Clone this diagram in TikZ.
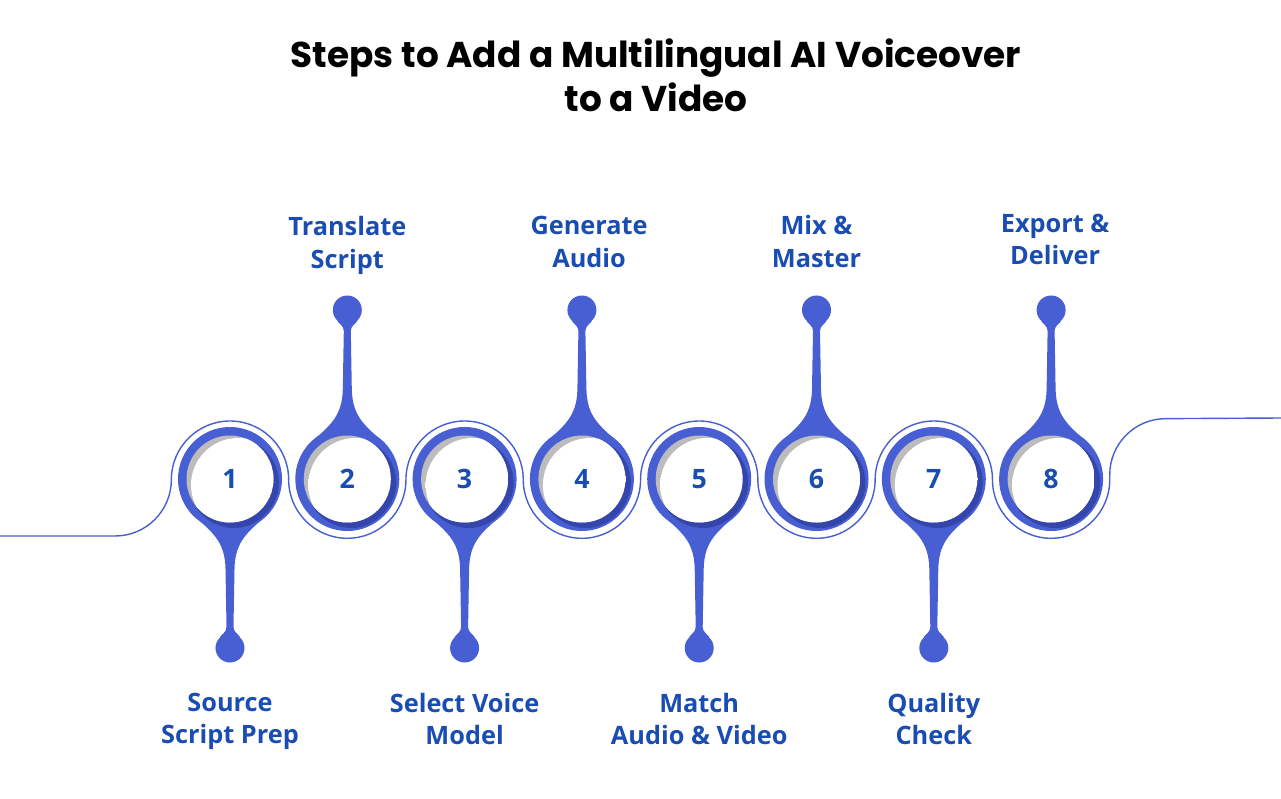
\documentclass[tikz,border=0pt]{standalone}
\usepackage{fontspec}
\setmainfont{Open Sans}
\newfontfamily\titlefont{Poppins}
\usetikzlibrary{positioning}
\definecolor{ringblue}{RGB}{72,95,212}
\definecolor{ringdark}{RGB}{52,70,172}
\definecolor{labelblue}{RGB}{26,77,178}
\definecolor{shadowgray}{RGB}{188,188,188}
\pgfdeclareradialshading{bubble}{\pgfpoint{0bp}{0bp}}{color(0bp)=(white); color(38bp)=(white); color(50bp)=(shadowgray)}

\begin{document}
\begin{tikzpicture}[
    x=0.025cm, y=0.025cm,
    steplabel/.style={font=\fontsize{18}{23}\selectfont\bfseries, text=labelblue, align=center, inner sep=0pt},
    stepnum/.style={font=\fontsize{19}{22}\selectfont\bfseries, text=labelblue, inner sep=0pt},
    ball/.style={circle, fill=ringblue, minimum size=0.725cm, inner sep=0pt},
    wave/.style={draw=ringblue, line width=1pt}
]
    \useasboundingbox (0,0) rectangle (1281,798);

    % title
    \node[font=\titlefont\fontsize{25.5}{31.5}\selectfont\bfseries, align=center] (title) at (656,723) {Steps to Add a Multilingual AI Voiceover\\to a Video};

    % thin line winding round the rings
    \draw[wave] (0,262) -- (115,262) arc[start angle=-90, end angle=0, radius=56.35]
        arc[start angle=180, end angle=0, radius=58.65]
        arc[start angle=180, end angle=360, radius=58.65]
        arc[start angle=180, end angle=0, radius=58.65]
        arc[start angle=180, end angle=360, radius=58.65]
        arc[start angle=180, end angle=0, radius=58.65]
        arc[start angle=180, end angle=360, radius=58.65]
        arc[start angle=180, end angle=0, radius=58.65]
        arc[start angle=180, end angle=360, radius=58.65]
        -- ++(0,5) arc[start angle=180, end angle=90, radius=56] -- (1281,380);

    % rings with stems
    \foreach \i in {1,...,8}{
        \pgfmathsetmacro{\cx}{230+117.3*(\i-1)}
        \pgfmathsetmacro{\dir}{isodd(\i) ? 1 : -1}
        \begin{scope}[shift={(\cx,319)}, yscale=\dir]
            \fill[ringblue] (-40,-33) .. controls (-20,-52) and (-5,-60) .. (-4.5,-90)
                -- (-3.5,-148) .. controls (-3.5,-153) and (-8,-155) .. (-10,-158)
                -- (10,-158) .. controls (8,-155) and (3.5,-153) .. (3.5,-148)
                -- (4.5,-90) .. controls (5,-60) and (20,-52) .. (40,-33) -- cycle;
            \node[ball] (b\i) at (0,-169) {};
        \end{scope}
        \fill[ringblue] (\cx,319) circle (52);
        \begin{scope}
            \clip (\cx,319) circle (50);
            \fill[ringdark] (\cx+4,315) circle (45);
        \end{scope}
        \begin{scope}
            \clip (\cx,319) circle (43.5);
            \fill[shadowgray] (\cx,319) circle (43.5);
            \shade[shading=bubble] (\cx+8,313) circle (47);
        \end{scope}
        \node[stepnum] (s\i) at (\cx,319) {\i};
    }

    % labels
    \node[steplabel, below=0.75cm of b1] (l1) {Source\\Script Prep};
    \node[steplabel, above=0.52cm of b2] (l2) {Translate\\Script};
    \node[steplabel, below=0.75cm of b3] (l3) {Select Voice\\Model};
    \node[steplabel, above=0.69cm of b4, xshift=0.18cm] (l4) {Generate\\Audio};
    \node[steplabel, below=0.75cm of b5] (l5) {Match\\Audio \& Video};
    \node[steplabel, above=0.69cm of b6] (l6) {Mix \&\\Master};
    \node[steplabel, below=0.75cm of b7] (l7) {Quality\\Check};
    \node[steplabel, above=0.75cm of b8, xshift=0.1cm] (l8) {Export \&\\Deliver};

\end{tikzpicture}
\end{document}
